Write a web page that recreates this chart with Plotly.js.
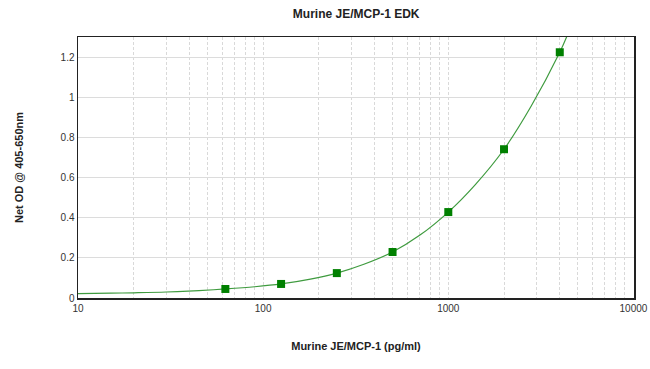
<!DOCTYPE html>
<html><head><meta charset="utf-8">
<script src="https://cdn.plot.ly/plotly-3.0.1.min.js"></script>
<style>html,body{margin:0;padding:0;background:#fff}#chart{width:650px;height:369px}</style>
</head><body><div id="chart"></div>
<script>
// Standards (pg/ml) and net OD
const concentrations = [62.5, 125, 250, 500, 1000, 2000, 4000];
const netOD = [0.045, 0.07, 0.124, 0.229, 0.428, 0.741, 1.224];
// Fitted curve
const curveX = [10, 15, 20, 30, 45, 62.5, 90, 125, 180, 250, 350, 500, 700, 1000, 1400, 2000, 2800, 4000, 4400];
const curveY = [0.022, 0.024, 0.026, 0.030, 0.037, 0.045, 0.056, 0.070, 0.094, 0.124, 0.168, 0.229, 0.312, 0.428, 0.565, 0.741, 0.955, 1.224, 1.31];
const yTicks = [0, 0.2, 0.4, 0.6, 0.8, 1, 1.2];
const yTickText = ['0', '0.2', '0.4', '0.6', '0.8', '1', '1.2'];
const xTicks = [10, 100, 1000, 10000];
const xTickText = ['10', '100', '1000', '10000'];

const font = 'Liberation Sans, Arial, sans-serif';
Plotly.newPlot('chart', [
  {x: curveX, y: curveY, mode: 'lines', line: {color: '#3f9b3f', width: 1.2, shape: 'spline'}, hoverinfo: 'skip'},
  {x: concentrations, y: netOD, mode: 'markers', marker: {symbol: 'square', size: 8, color: '#008000'}}
], {
  width: 650, height: 369,
  margin: {l: 78, r: 16, t: 37, b: 71},
  showlegend: false,
  paper_bgcolor: '#fff', plot_bgcolor: '#fff',
  title: {text: '<b>Murine JE/MCP-1 EDK</b>', font: {family: font, size: 12, color: '#222'}, x: 0.548, xanchor: 'center', y: 0.962, yanchor: 'middle'},
  xaxis: {
    type: 'log', range: [1, 4.003],
    tickvals: xTicks, ticktext: xTickText,
    showgrid: true, gridcolor: '#d9d9d9', griddash: '3px,2px', gridwidth: 1,
    minor: {dtick: 'D1', showgrid: true, gridcolor: '#d9d9d9', griddash: '3px,2px', gridwidth: 1, ticks: ''},
    ticks: '', showline: true, linecolor: '#222', linewidth: 1.5, mirror: true,
    zeroline: false,
    tickfont: {family: font, size: 10, color: '#333'},
    title: {text: '<b>Murine JE/MCP-1 (pg/ml)</b>', font: {family: font, size: 11, color: '#222'}, standoff: 30}
  },
  yaxis: {
    range: [0, 1.3],
    tickvals: yTicks, ticktext: yTickText,
    showgrid: true, gridcolor: '#dcdcdc', gridwidth: 1,
    ticks: '', showline: true, linecolor: '#222', linewidth: 1.5, mirror: true,
    zeroline: false,
    tickfont: {family: font, size: 10, color: '#333'},
    title: {text: '<b>Net OD @ 405-650nm</b>', font: {family: font, size: 11, color: '#222'}, standoff: 34}
  }
}, {displayModeBar: false, staticPlot: true});
</script></body></html>
